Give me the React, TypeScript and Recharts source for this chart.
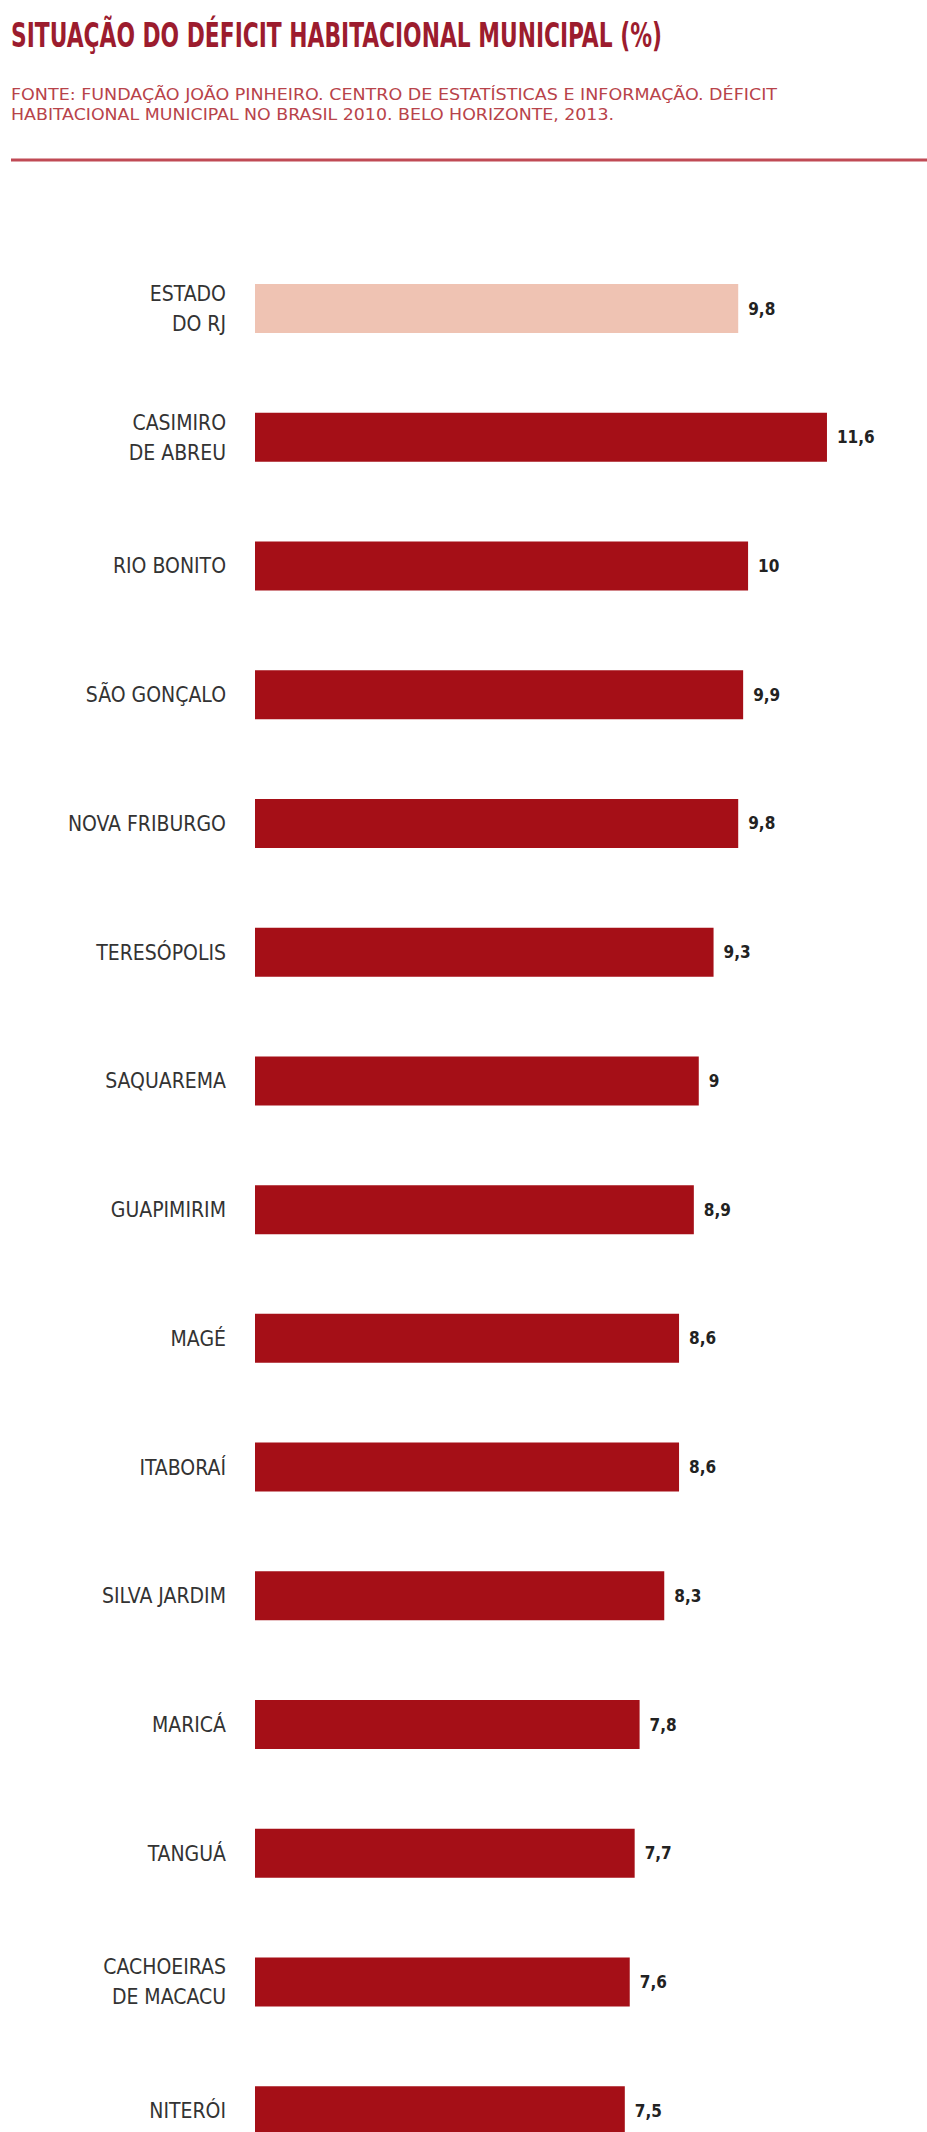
import React from "react";
import { BarChart, Bar, XAxis, YAxis, Cell, LabelList } from "recharts";

const categories = [
  "ESTADO\nDO RJ",
  "CASIMIRO\nDE ABREU",
  "RIO BONITO",
  "SÃO GONÇALO",
  "NOVA FRIBURGO",
  "TERESÓPOLIS",
  "SAQUAREMA",
  "GUAPIMIRIM",
  "MAGÉ",
  "ITABORAÍ",
  "SILVA JARDIM",
  "MARICÁ",
  "TANGUÁ",
  "CACHOEIRAS\nDE MACACU",
  "NITERÓI",
];
const values = [9.8, 11.6, 10, 9.9, 9.8, 9.3, 9, 8.9, 8.6, 8.6, 8.3, 7.8, 7.7, 7.6, 7.5];
const highlight = [true, false, false, false, false, false, false, false, false, false, false, false, false, false, false];

const title = "SITUAÇÃO DO DÉFICIT HABITACIONAL MUNICIPAL (%)";
const sourceLines = [
  "FONTE: FUNDAÇÃO JOÃO PINHEIRO. CENTRO DE ESTATÍSTICAS E INFORMAÇÃO. DÉFICIT",
  "HABITACIONAL MUNICIPAL NO BRASIL 2010. BELO HORIZONTE, 2013.",
];

const data = categories.map((c, i) => ({ name: c, value: values[i], hl: highlight[i] }));

const FONT = "'Liberation Sans Narrow', 'DejaVu Sans Condensed', 'Roboto Condensed', 'Liberation Sans', sans-serif";

const CategoryTick = (props: any) => {
  const { x, y, payload } = props;
  const lines = String(payload.value).split("\n");
  const lh = 30;
  const start = -((lines.length - 1) * lh) / 2;
  return (
    <g>
      {lines.map((ln, i) => (
        <text
          key={i}
          x={x - 21}
          y={y + start + i * lh}
          dy="0.36em"
          textAnchor="end"
          fill="#333333"
          fontFamily={FONT}
          fontSize={21}
        >
          {ln}
        </text>
      ))}
    </g>
  );
};

export default function App() {
  return (
    <div style={{ position: "absolute", left: 0, top: 0, width: 927, height: 2132, overflow: "hidden", background: "#ffffff" }}>
      <svg width={927} height={170} style={{ position: "absolute", left: 0, top: 0 }}>
        <g transform="translate(11,47) scale(1,1.4)">
          <text x={0} y={0} fontFamily={FONT} fontWeight="bold" fontSize={24} fill="#9c1c2e" textLength={651} lengthAdjust="spacingAndGlyphs">
            {title}
          </text>
        </g>
        <text x={11} y={100} fontFamily={FONT} fontSize={16.5} fill="#b8434a" textLength={766} lengthAdjust="spacingAndGlyphs">
          {sourceLines[0]}
        </text>
        <text x={11} y={120} fontFamily={FONT} fontSize={16.5} fill="#b8434a" textLength={603} lengthAdjust="spacingAndGlyphs">
          {sourceLines[1]}
        </text>
        <line x1={11} x2={927} y1={160} y2={160} stroke="#c04a55" strokeWidth={3} />
      </svg>
      <div style={{ position: "absolute", left: 0, top: 0 }}>
        <BarChart
          width={927}
          height={2176}
          data={data}
          layout="vertical"
          margin={{ top: 244, right: 31, bottom: 1, left: 0 }}
          barSize={49}
        >
          <XAxis type="number" domain={[0, 13]} hide />
          <YAxis
            type="category"
            dataKey="name"
            width={255}
            axisLine={false}
            tickLine={false}
            tick={<CategoryTick />}
            interval={0}
          />
          <Bar dataKey="value" isAnimationActive={false}>
            {data.map((d, i) => (
              <Cell key={i} fill={d.hl ? "#efc3b3" : "#a50f17"} />
            ))}
            <LabelList
              dataKey="value"
              position="right"
              offset={10}
              formatter={(v: any) => String(v).replace(".", ",")}
              fill="#222222"
              fontFamily={FONT}
              fontWeight="bold"
              fontSize={17}
            />
          </Bar>
        </BarChart>
      </div>
    </div>
  );
}
